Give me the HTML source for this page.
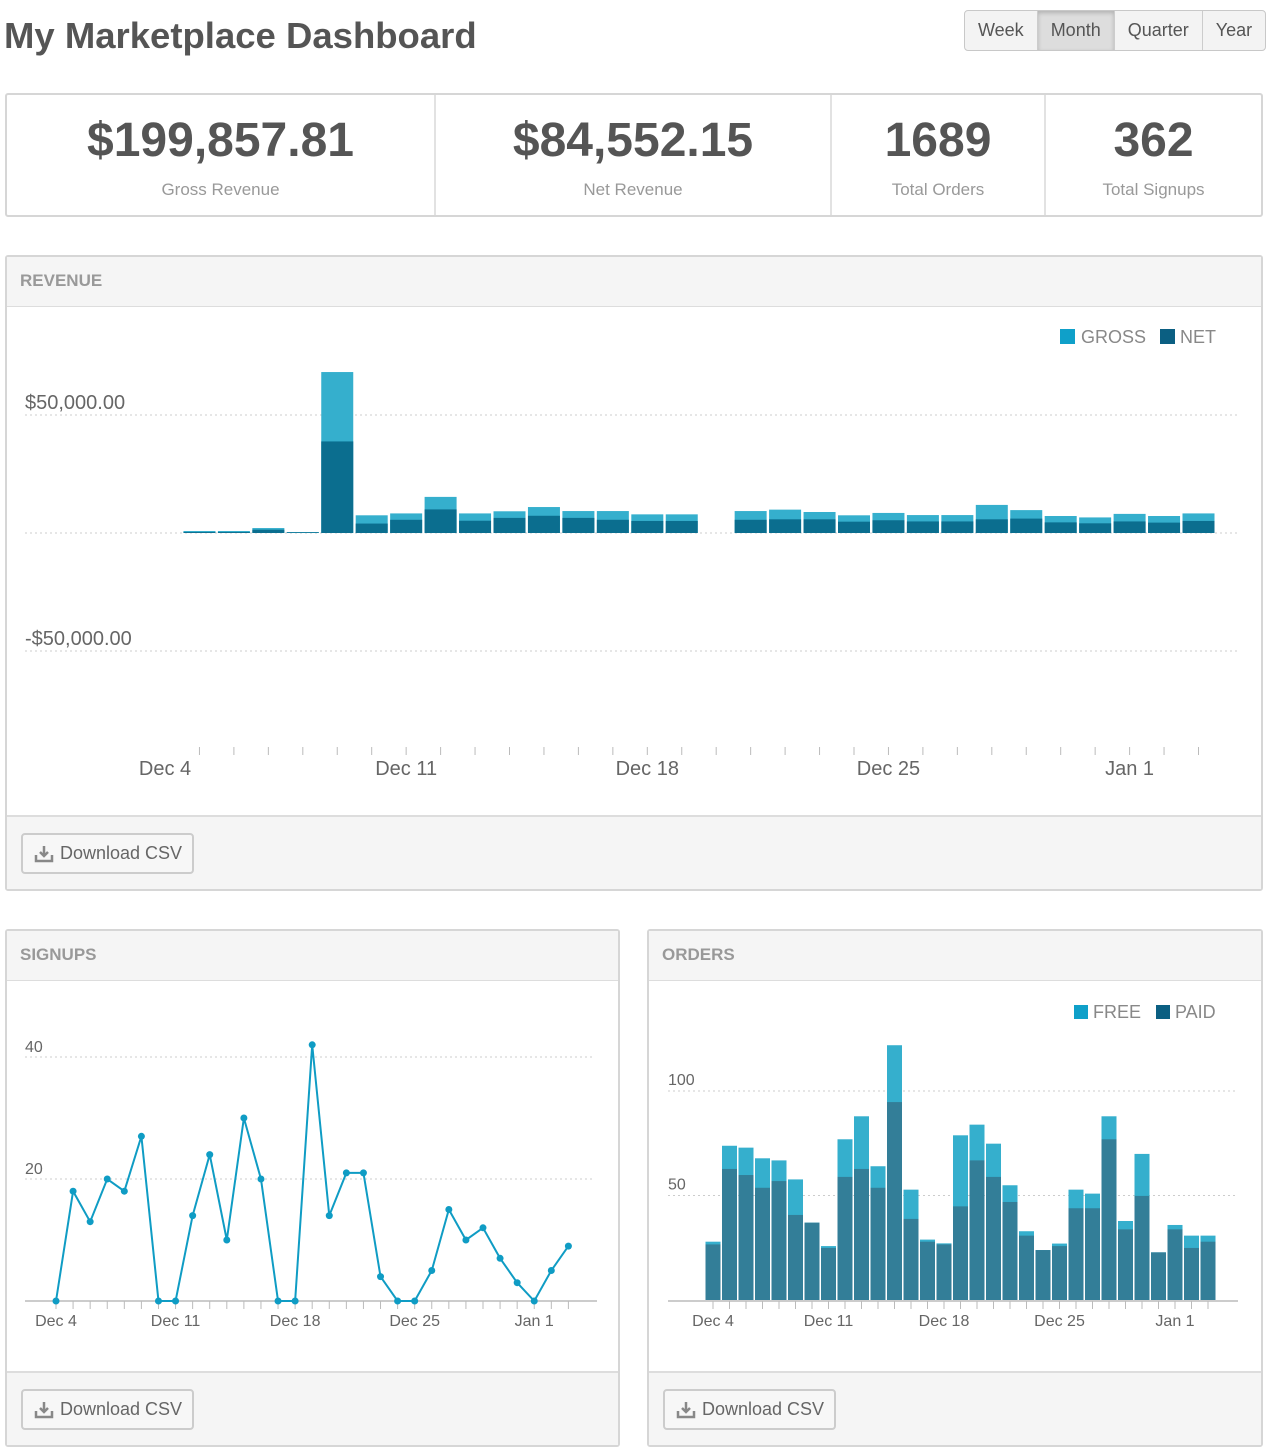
<!DOCTYPE html>
<html><head><meta charset="utf-8">
<style>
*{box-sizing:border-box;margin:0;padding:0}
body{width:1270px;height:1450px;background:#fff;font-family:"Liberation Sans",sans-serif;position:relative;overflow:hidden;color:#555}
.abs{position:absolute}
h1{position:absolute;left:4px;top:15px;font-size:36.5px;font-weight:bold;color:#555}
.btns{position:absolute;left:964px;top:10px;height:41px;display:flex;border:1px solid #c8c8c8;border-radius:4px;overflow:hidden;background:#f3f3f3}
.btns div{font-size:18px;color:#555;line-height:39px;padding:0 13px;border-right:1px solid #ccc}
.btns div:last-child{border-right:none}
.btns .on{background:#ddd;box-shadow:inset 0 2px 4px rgba(0,0,0,.2)}
.stats{position:absolute;left:5px;top:93px;width:1258px;height:124px;border:2px solid #d6d6d6;border-radius:3px;display:flex}
.stat{text-align:center;border-right:2px solid #e2e2e2;position:relative}
.stat:last-child{border-right:none}
.stat .v{font-size:48px;font-weight:bold;color:#555;margin-top:18px;letter-spacing:0}
.stat .l{font-size:17px;color:#999;margin-top:12px}
.panel{position:absolute;border:2px solid #d6d6d6;border-radius:3px;background:#fff}
.ph{position:absolute;left:0;top:0;right:0;height:50px;background:#f5f5f5;border-bottom:1px solid #ddd;font-size:17px;font-weight:bold;color:#999;padding:14px 0 0 13px}
.pf{position:absolute;left:0;bottom:0;right:0;height:74px;background:#f5f5f5;border-top:2px solid #ddd}
.dl{position:absolute;left:14px;top:16px;width:173px;height:41px;border:2px solid #ccc;border-radius:4px;background:#f7f7f7;font-size:18px;color:#666;line-height:37px;padding-left:37px}
.dl svg{position:absolute;left:11px;top:10px}
svg text{font-family:"Liberation Sans",sans-serif}
</style></head><body>
<h1>My Marketplace Dashboard</h1>
<div class="btns">
<div>Week</div>
<div class="on">Month</div>
<div>Quarter</div>
<div>Year</div>
</div>
<div class="stats">
<div class="stat" style="width:429px"><div class="v">$199,857.81</div><div class="l">Gross Revenue</div></div>
<div class="stat" style="width:396px"><div class="v">$84,552.15</div><div class="l">Net Revenue</div></div>
<div class="stat" style="width:214px"><div class="v">1689</div><div class="l">Total Orders</div></div>
<div class="stat" style="width:215px"><div class="v">362</div><div class="l">Total Signups</div></div>
</div>

<div class="panel" style="left:5px;top:255px;width:1258px;height:636px">
<div class="ph">REVENUE</div>
<div class="pf"><div class="dl"><svg width="20" height="18" viewBox="0 0 20 18"><path d="M10 1v10M6 7l4 4 4-4M2 10v6h16v-6" fill="none" stroke="#888" stroke-width="2.5"/></svg>Download CSV</div></div>
</div>
<div class="panel" style="left:5px;top:929px;width:615px;height:518px">
<div class="ph">SIGNUPS</div>
<div class="pf"><div class="dl"><svg width="20" height="18" viewBox="0 0 20 18"><path d="M10 1v10M6 7l4 4 4-4M2 10v6h16v-6" fill="none" stroke="#888" stroke-width="2.5"/></svg>Download CSV</div></div>
</div>
<div class="panel" style="left:647px;top:929px;width:616px;height:518px">
<div class="ph">ORDERS</div>
<div class="pf"><div class="dl"><svg width="20" height="18" viewBox="0 0 20 18"><path d="M10 1v10M6 7l4 4 4-4M2 10v6h16v-6" fill="none" stroke="#888" stroke-width="2.5"/></svg>Download CSV</div></div>
</div>

<svg id="chart" class="abs" style="left:0;top:0" width="1270" height="1450"></svg>

<script>
const dayLabels = ["Dec 4","Dec 11","Dec 18","Dec 25","Jan 1"];
const labelIdx = [0,7,14,21,28];
const revGross = [0,0.85,0.85,2.1,0.4,68.2,7.5,8.3,15.3,8.3,9.2,11.0,9.3,9.3,7.9,7.9,0,9.3,9.9,8.9,7.5,8.5,7.6,7.6,11.9,9.7,7.2,6.6,8.1,7.2,8.3];
const revNet = [0,0.4,0.4,1.4,0.3,38.8,4.0,5.6,10.0,5.2,6.4,7.3,6.4,5.6,5.1,5.1,0,5.6,5.8,5.8,4.8,5.4,4.9,4.9,5.8,6.1,4.5,4.1,4.9,4.4,5.1];
const revTicks = [50000,-50000];
const revTickLabels = ["$50,000.00","-$50,000.00"];
const signups = [0,18,13,20,18,27,0,0,14,24,10,30,20,0,0,42,14,21,21,4,0,0,5,15,10,12,7,3,0,5,9];
const signupTicks = [40,20];
const ordersTotal = [27.9,73.8,72.9,67.8,66.8,57.7,37.0,25.8,76.9,87.9,64.0,121.9,52.8,28.9,27.1,78.8,83.9,74.8,54.9,32.9,23.9,27.0,52.8,50.9,87.9,37.8,69.9,22.8,35.9,30.8,30.8];
const ordersPaid = [26.6,62.7,59.8,53.7,56.9,40.7,37.0,24.9,58.9,62.7,53.7,94.7,38.8,27.9,26.6,44.8,66.8,58.9,46.9,30.8,23.9,25.8,43.9,43.9,76.9,33.8,49.8,22.8,33.8,24.9,27.9];
const orderTicks = [100,50];

const svg = document.getElementById('chart');
const NS = 'http://www.w3.org/2000/svg';
function mk(tag, attrs, parent){const e=document.createElementNS(NS,tag);for(const k in attrs)e.setAttribute(k,attrs[k]);(parent||svg).appendChild(e);return e;}
function txt(s, attrs, parent){const e=mk('text',attrs,parent);e.textContent=s;return e;}

// ---------- Revenue ----------
const rX = i => 165 + i*34.45;
const rY = v => 533 - v*118/50000;
const gRev = mk('g',{});


revTicks.forEach((t,j)=>{
  const l=mk('line',{x1:25,x2:1240,y1:rY(t),y2:rY(t),stroke:'#ccc','stroke-dasharray':'2,3'},gRev);
  
  
  const tl=txt(revTickLabels[j],{x:25,y:rY(t)-6,'font-size':20,fill:'#666'},gRev);
  
  
});
const z=mk('line',{x1:25,x2:1240,y1:rY(0),y2:rY(0),stroke:'#ccc','stroke-dasharray':'2,3'},gRev);


revGross.forEach((v,i)=>{
  if(!v) return;
  const b=mk('rect',{x:rX(i)-16,y:rY(v*1000),width:32,height:rY(0)-rY(v*1000),fill:'#35afcd'},gRev);
  
  
  const n=revNet[i];
  const b2=mk('rect',{x:rX(i)-16,y:rY(n*1000),width:32,height:rY(0)-rY(n*1000),fill:'#0b6e8f'},gRev);
  
  
});
for(let i=1;i<revGross.length;i++){
  const t=mk('line',{x1:rX(i),x2:rX(i),y1:747,y2:755,stroke:'#bbb'},gRev);
  
  
}
dayLabels.forEach((s,j)=>{
  const l=txt(s,{x:rX(labelIdx[j]),y:775,'font-size':20,fill:'#666','text-anchor':'middle'},gRev);
  
  
});
[[1060,'#0fa0c9','GROSS',1081],[1160,'#0b5f82','NET',1180]].forEach(a=>{
  const r=mk('rect',{x:a[0],y:329,width:15,height:15,fill:a[1]},gRev);
  
  
  const t=txt(a[2],{x:a[3],y:343,'font-size':18,fill:'#888'},gRev);
  
  
});

// ---------- Signups ----------
const sX = i => 56 + i*17.08;
const sY = v => 1301 - v*6.1;
const gS = mk('g',{});


signupTicks.forEach(t=>{
  const l=mk('line',{x1:25,x2:595,y1:sY(t),y2:sY(t),stroke:'#ccc','stroke-dasharray':'2,3'},gS);
  
  
  const tl=txt(String(t),{x:25,y:sY(t)-5,'font-size':16,fill:'#666'},gS);
  
  
});
const sa=mk('line',{x1:25,x2:597,y1:1301,y2:1301,stroke:'#ccc','stroke-width':2},gS);


signups.forEach((v,i)=>{
  const t=mk('line',{x1:sX(i),x2:sX(i),y1:1301,y2:1309,stroke:'#bbb'},gS);
  
  
});
const sl=mk('polyline',{points:signups.map((v,i)=>sX(i)+','+sY(v)).join(' '),fill:'none',stroke:'#0f9cc4','stroke-width':2},gS);


signups.forEach((v,i)=>{
  const c=mk('circle',{cx:sX(i),cy:sY(v),r:3.5,fill:'#0f9cc4'},gS);
  
  
});
dayLabels.forEach((s,j)=>{
  const l=txt(s,{x:sX(labelIdx[j]),y:1326,'font-size':16,fill:'#666','text-anchor':'middle'},gS);
  
  
});

// ---------- Orders ----------
const oX = i => 713 + i*16.5;
const oY = v => 1300 - v*2.09;
const gO = mk('g',{});


orderTicks.forEach(t=>{
  const l=mk('line',{x1:668,x2:1237,y1:oY(t),y2:oY(t),stroke:'#ccc','stroke-dasharray':'2,3'},gO);
  
  
  const tl=txt(String(t),{x:668,y:oY(t)-6,'font-size':16,fill:'#666'},gO);
  
  
});
ordersTotal.forEach((v,i)=>{
  const b=mk('rect',{x:oX(i)-7.5,y:oY(v),width:15,height:oY(0)-oY(v),fill:'#35afcd'},gO);
  
  
  const p=ordersPaid[i];
  const b2=mk('rect',{x:oX(i)-7.5,y:oY(p),width:15,height:oY(0)-oY(p),fill:'#337e98'},gO);
  
  
});
const oa=mk('line',{x1:668,x2:1238,y1:1301,y2:1301,stroke:'#ccc','stroke-width':2},gO);


ordersTotal.forEach((v,i)=>{
  const t=mk('line',{x1:oX(i),x2:oX(i),y1:1301,y2:1309,stroke:'#bbb'},gO);
  
  
});
dayLabels.forEach((s,j)=>{
  const l=txt(s,{x:oX(labelIdx[j]),y:1326,'font-size':16,fill:'#666','text-anchor':'middle'},gO);
  
  
});
[[1074,'#0fa0c9','FREE',1093],[1156,'#0b5f82','PAID',1175]].forEach(a=>{
  const r=mk('rect',{x:a[0],y:1005,width:14,height:14,fill:a[1]},gO);
  
  
  const t=txt(a[2],{x:a[3],y:1018,'font-size':18,fill:'#888'},gO);
  
  
});
</script>
</body></html>
